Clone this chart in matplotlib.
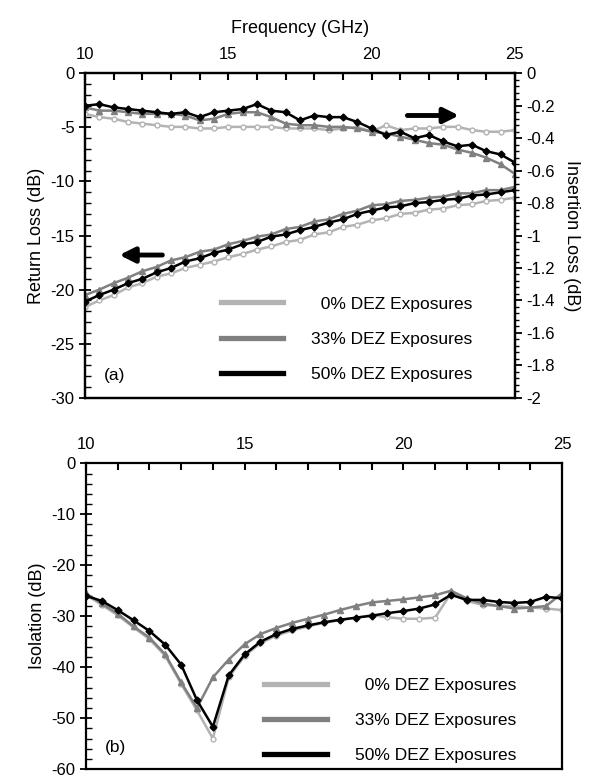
import numpy as np
from matplotlib import pyplot as plt
from matplotlib.ticker import MultipleLocator

plt.rcParams['font.family'] = ['Liberation Sans', 'DejaVu Sans']
plt.rcParams['axes.unicode_minus'] = False

# frequency points (GHz), 0.5 GHz step
freq = [10.0, 10.5, 11.0, 11.5, 12.0, 12.5, 13.0, 13.5, 14.0, 14.5, 15.0,
        15.5, 16.0, 16.5, 17.0, 17.5, 18.0, 18.5, 19.0, 19.5, 20.0,
        20.5, 21.0, 21.5, 22.0, 22.5, 23.0, 23.5, 24.0, 24.5, 25.0]

labels = ['  0% DEZ Exposures', '33% DEZ Exposures', '50% DEZ Exposures']

# (a) return loss, left axis (dB)
rl_0 = [-21.6, -21.0, -20.5, -19.8, -19.4, -18.8, -18.5, -18.0, -17.7, -17.4, -17.0,
        -16.7, -16.3, -16.0, -15.6, -15.4, -14.9, -14.7, -14.2, -14.0, -13.6,
        -13.4, -13.0, -12.9, -12.6, -12.5, -12.2, -12.1, -11.8, -11.7, -11.5]
rl_33 = [-20.5, -20.0, -19.4, -18.9, -18.3, -17.9, -17.3, -17.0, -16.5, -16.3, -15.8,
         -15.5, -15.1, -14.9, -14.4, -14.2, -13.7, -13.5, -13.0, -12.7, -12.2,
         -12.1, -11.8, -11.7, -11.5, -11.4, -11.1, -11.1, -10.8, -10.8, -10.5]
rl_50 = [-21.1, -20.5, -20.0, -19.4, -19.0, -18.4, -18.0, -17.4, -17.1, -16.6, -16.3,
         -15.8, -15.6, -15.1, -14.9, -14.5, -14.2, -13.8, -13.5, -13.0, -12.7,
         -12.4, -12.3, -12.0, -11.9, -11.7, -11.6, -11.3, -11.2, -11.0, -10.8]

# (a) insertion loss, right axis (dB)
il_0 = [-0.25, -0.27, -0.28, -0.30, -0.31, -0.32, -0.33, -0.33, -0.34, -0.34, -0.33,
        -0.33, -0.33, -0.33, -0.34, -0.34, -0.34, -0.35, -0.34, -0.33, -0.36,
        -0.32, -0.35, -0.34, -0.34, -0.33, -0.33, -0.35, -0.36, -0.36, -0.35]
il_33 = [-0.21, -0.23, -0.23, -0.24, -0.25, -0.25, -0.25, -0.26, -0.29, -0.28, -0.25,
         -0.24, -0.24, -0.27, -0.31, -0.32, -0.32, -0.33, -0.33, -0.34, -0.36,
         -0.37, -0.39, -0.41, -0.43, -0.44, -0.47, -0.49, -0.52, -0.56, -0.62]
il_50 = [-0.20, -0.19, -0.21, -0.22, -0.23, -0.24, -0.25, -0.24, -0.27, -0.24, -0.23,
         -0.22, -0.19, -0.23, -0.24, -0.29, -0.26, -0.27, -0.27, -0.30, -0.34,
         -0.38, -0.36, -0.40, -0.38, -0.42, -0.45, -0.44, -0.48, -0.50, -0.55]

# (b) isolation (dB)
iso_0 = [-25.8, -27.8, -29.8, -32.2, -34.5, -37.8, -43.3, -48.5, -54.0, -42.0, -37.8,
         -35.3, -33.8, -32.8, -32.0, -31.3, -30.8, -30.3, -29.8, -30.2, -30.5,
         -30.5, -30.3, -25.5, -27.0, -27.8, -28.0, -28.0, -28.3, -28.5, -28.8]
iso_33 = [-25.5, -27.5, -29.5, -32.0, -34.2, -37.5, -43.0, -48.0, -42.0, -38.5, -35.5,
          -33.5, -32.3, -31.3, -30.5, -29.7, -28.8, -28.0, -27.3, -27.0, -26.7,
          -26.3, -25.9, -25.0, -26.5, -27.5, -28.0, -28.5, -28.3, -28.0, -25.5]
iso_50 = [-26.0, -27.0, -28.8, -30.8, -32.9, -35.6, -39.5, -46.5, -51.7, -41.6, -37.5,
          -35.0, -33.5, -32.5, -31.8, -31.2, -30.7, -30.3, -29.9, -29.4, -29.0,
          -28.5, -27.7, -25.8, -26.8, -26.8, -27.2, -27.4, -27.2, -26.2, -26.5]

c_light = '#b3b3b3'
c_mid = '#808080'
c_dark = '#000000'


def draw_series(ax, y0, y33, y50):
    ax.plot(freq, y0, color=c_light, lw=1.8, marker='o', ms=3.5,
            mfc='white', mec=c_light, mew=1.0)
    ax.plot(freq, y33, color=c_mid, lw=1.8, marker='^', ms=5,
            mfc=c_mid, mec=c_mid)
    ax.plot(freq, y50, color=c_dark, lw=1.8, marker='D', ms=3.5,
            mfc=c_dark, mec=c_dark)


def add_legend(ax, loc):
    handles = [plt.Line2D([], [], color=c, lw=3.8) for c in (c_light, c_mid, c_dark)]
    ax.legend(handles, labels, loc=loc, frameon=False, fontsize=12.5,
              handlelength=3.6, handletextpad=1.6, labelspacing=1.15)


def style_frame(ax):
    for s in ax.spines.values():
        s.set_linewidth(1.6)


fig = plt.figure(figsize=(6.05, 7.8), dpi=100)

# ---------- (a) ----------
ax1 = fig.add_axes([0.1405, 0.490, 0.7105, 0.416])
draw_series(ax1, rl_0, rl_33, rl_50)
ax1.set_xlim(10, 25)
ax1.set_ylim(-30, 0)
ax1.xaxis.set_ticks_position('top')
ax1.xaxis.set_label_position('top')
ax1.xaxis.set_major_locator(MultipleLocator(5))
ax1.xaxis.set_minor_locator(MultipleLocator(1))
ax1.yaxis.set_major_locator(MultipleLocator(5))
ax1.yaxis.set_minor_locator(MultipleLocator(1))
ax1.tick_params(axis='x', which='both', direction='in', length=5, width=1.5,
                labelsize=12, pad=8)
ax1.tick_params(axis='y', which='major', direction='inout', length=8, width=1.3,
                labelsize=12)
ax1.tick_params(axis='y', which='minor', direction='in', length=4, width=1.0)
ax1.set_xlabel('Frequency (GHz)', fontsize=13, labelpad=10)
ax1.set_ylabel('Return Loss (dB)', fontsize=13, labelpad=4)
style_frame(ax1)

ax1r = ax1.twinx()
draw_series(ax1r, il_0, il_33, il_50)
ax1r.set_ylim(-2, 0)
ax1r.yaxis.set_major_locator(MultipleLocator(0.2))
ax1r.yaxis.set_minor_locator(MultipleLocator(0.04))
ax1r.yaxis.set_major_formatter(lambda v, p: '0' if abs(v) < 1e-9 else ('%g' % round(v, 1)))
ax1r.tick_params(axis='y', which='major', direction='out', length=5, width=1.3,
                 labelsize=12)
ax1r.tick_params(axis='y', which='minor', direction='out', length=3, width=1.0)
ax1r.set_ylabel('Insertion Loss (dB)', fontsize=13, rotation=-90, labelpad=18)
style_frame(ax1r)

add_legend(ax1, (0.30, 0.028))
ax1.text(0.045, 0.055, '(a)', transform=ax1.transAxes, fontsize=12.5)

arrow = dict(arrowstyle='-|>,head_width=0.45,head_length=0.9', color='black',
             lw=3.5, shrinkA=0, shrinkB=0)
ax1.annotate('', xy=(0.87, 0.87), xytext=(0.75, 0.87),
             xycoords='axes fraction', arrowprops=arrow)
ax1.annotate('', xy=(0.08, 0.44), xytext=(0.18, 0.44),
             xycoords='axes fraction', arrowprops=arrow)

# ---------- (b) ----------
ax2 = fig.add_axes([0.142, 0.014, 0.787, 0.392])
draw_series(ax2, iso_0, iso_33, iso_50)
ax2.set_xlim(10, 25)
ax2.set_ylim(-60, 0)
ax2.xaxis.set_ticks_position('top')
ax2.xaxis.set_major_locator(MultipleLocator(5))
ax2.xaxis.set_minor_locator(MultipleLocator(1))
ax2.yaxis.set_major_locator(MultipleLocator(10))
ax2.yaxis.set_minor_locator(MultipleLocator(2))
ax2.tick_params(axis='x', which='both', direction='in', length=5, width=1.5,
                labelsize=12, pad=8)
ax2.tick_params(axis='y', which='major', direction='inout', length=8, width=1.3,
                labelsize=12)
ax2.tick_params(axis='y', which='minor', direction='in', length=4, width=1.0)
ax2.set_ylabel('Isolation (dB)', fontsize=13, labelpad=4)
style_frame(ax2)

add_legend(ax2, (0.36, -0.004))
ax2.text(0.04, 0.055, '(b)', transform=ax2.transAxes, fontsize=12.5)

plt.savefig('out.png', dpi=100)
